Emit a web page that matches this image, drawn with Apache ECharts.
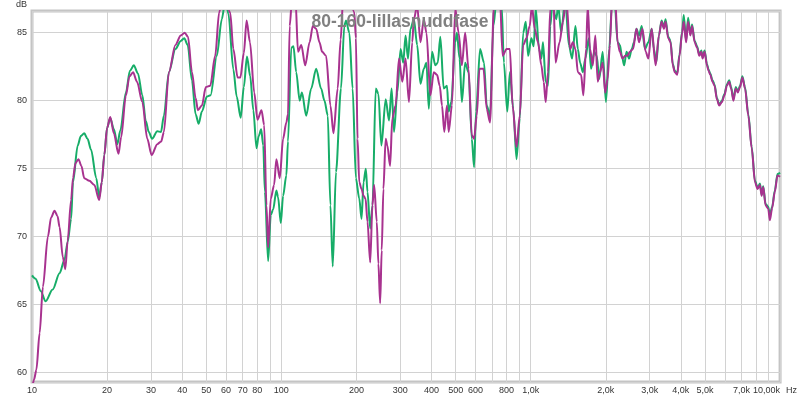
<!DOCTYPE html>
<html>
<head>
<meta charset="utf-8">
<script src="https://cdn.jsdelivr.net/npm/echarts@6/dist/echarts.min.js"></script>
<style>html,body{margin:0;padding:0;background:#fff}#c{width:800px;height:399px}</style>
</head>
<body>
<div id="c"></div>
<script>
// ---- data ----
const titleText = '80-160-lillasnuddfase';

const freqGreen = [10,10.34,10.83,11.34,12.1,12.9,13.5,13.9,14.35,14.6,15.25,15.7,16.2,16.7,17.25,18.1,18.6,19.05,19.5,20.0,20.6,21.3,22.0,22.6,23.8,24.7,25.6,26.6,27.7,28.6,29.4,30.3,31.8,32.9,33.8,35.4,37.6,39.5,40.8,42.1,43.8,45.3,46.6,48.0,50.3,52.0,55.1,57.7,59.7,61.3,64.2,66.2,68.7,70.7,72.8,75.0,77.2,79.5,81.1,83.0,84.6,85.9,88.5,90.7,92.7,95.5,97.0,99.5,101.6,104.7,106.3,109.6,111.8,114.7,118.4,120.9,125.8,131.7,137.9,144.3,148.9,153.5,157.3,160.7,165.6,173.4,178.9,181.6,187.3,193.1,199.0,205.3,209.7,213.6,218.1,221.5,227.1,231.9,239.1,245.0,251.8,262.0,270.3,276.8,283.0,291.7,300.7,308.2,314.8,321.8,329.6,340.0,350.4,361.3,372.7,381.7,390.2,402.2,414.5,423.8,434.0,447.7,461.4,468.7,480.0,498.0,505.8,518.4,529.5,545.8,563.1,580.3,592.7,603.7,626.4,649.7,666.1,686.6,708.3,730,764.4,780.6,805.4,824.7,851.1,877.0,904.0,932.7,955.2,976.3,1006,1028,1047,1080,1103,1120,1148,1173,1198,1220,1266,1289,1325,1375,1422,1466,1511,1545,1578,1618,1656,1709,1745,1799,1839,1883,1943,2003,2064,2116,2175,2230,2278,2320,2369,2422,2480,2542,2596,2654,2718,2786,2872,2963,3055,3119,3189,3266,3348,3420,3473,3560,3636,3713,3782,3867,3949,4048,4108,4199,4277,4368,4436,4544,4645,4744,4832,4889,4980,5091,5166,5247,5359,5459,5580,5700,5842,5984,6118,6247,6363,6498,6643,6767,6910,7058,7235,7457,7694,7930,8128,8301,8433,8558,8747,8960,9100,9293,9526,9763,10000];
const dbGreen = [67.15,66.9,66.0,65.24,66.1,67.3,68.3,69.6,71.3,74.0,76.7,77.4,77.6,77.2,76.4,74.3,72.9,74.0,76.0,78.0,78.7,77.9,76.8,77.8,80.6,82.2,82.6,82.0,80.4,78.5,77.7,77.2,77.75,77.7,78.9,82.1,83.8,84.4,84.6,84.1,81.5,79.0,78.3,79.2,80.3,80.4,83.3,86.0,87.5,86.4,82.3,80.3,78.75,81.0,83.26,81.8,79.3,76.5,77.4,77.9,76.7,73.3,68.2,71.6,72.0,73.4,72.9,71.0,73.0,74.5,77.0,83.9,84.0,82.1,80.0,80.6,78.9,80.9,82.35,80.9,80.0,78.9,72.3,67.8,74.75,80.9,85.5,85.9,85.0,80.9,74.3,72.8,71.3,74.0,75.0,73.3,70.6,72.3,80.9,80.5,76.7,80.1,78.55,80.9,77.7,80.6,83.8,82.8,84.8,83.1,85.3,86.0,84.1,81.25,82.35,82.8,79.4,83.6,82.6,82.8,84.7,80.9,81.1,79.2,79.9,84.3,85.0,83.1,79.9,82.8,82.1,77.2,75.1,79.2,83.8,82.8,79.65,78.9,85.5,87.5,87.0,82.8,79.2,82.1,79.4,75.7,78.7,85.0,85.8,83.3,84.6,84.0,86.8,83.8,83.1,84.3,81.4,81.1,85.5,87.0,86.0,87.0,85.0,87.5,84.1,83.1,85.5,83.8,82.8,82.1,83.1,84.6,82.35,83.6,83.3,81.6,83.6,79.9,83.8,87.0,87.0,84.3,84.1,83.3,82.6,83.6,83.1,83.8,84.3,85.3,84.8,85.5,83.8,84.3,85.3,83.8,82.8,84.8,85.9,85.4,86.0,84.7,84.4,82.7,82.2,82.0,83.4,85.1,86.3,84.4,86.1,84.9,85.6,84.4,84.0,83.4,83.7,83.2,83.7,82.7,82.3,82.0,81.5,81.2,80.2,79.7,80.0,80.5,81.2,81.5,81.0,80.1,81.0,80.7,81.1,81.8,81.0,79.0,76.6,74.1,73.6,73.9,73.1,73.7,72.4,72.2,71.6,72.2,73.4,74.6,74.7];

const freqMagenta = [10,10.2,10.41,10.73,11.06,11.58,11.93,12.31,12.66,12.9,13.29,13.6,13.9,14.35,14.6,14.94,15.35,15.78,16.2,16.98,17.78,18.6,19.05,19.5,20.0,20.6,21.3,22.22,22.77,23.8,24.61,25.42,26.37,27.7,28.99,30.18,31.8,32.96,33.8,35.4,37.6,39.5,40.96,42.22,43.8,45.3,46.28,48.0,49.8,51.84,54.29,56.31,58.57,62.3,64.2,66.78,68.47,70.7,72.55,74.83,77.85,80.2,83.24,85.33,87.14,88.5,90.7,93.52,95.5,98.54,101.6,104.7,106.3,108.0,110.8,113.9,116.6,120.2,124.6,129.8,133.7,137.9,142.2,145.7,151.1,157.3,161.8,168.2,172.9,176.9,186.1,196.1,199.0,202.1,205.3,209.7,213.6,217.5,221.5,227.1,231.9,235.6,241.3,245.0,249.0,252.6,256.6,262.0,266.1,272.9,278.6,287.2,296.3,305.5,314.8,324.8,334.8,340.0,350.4,361.3,372.7,381.7,396.0,408.5,421.0,431.6,440.8,450.2,461.4,468.7,483.1,498.0,513.7,529.5,545.8,563.1,580.3,592.7,607.6,622.9,646.3,666.1,686.6,712.2,752.5,771.4,800.3,824.7,845.6,877.0,904.0,932.7,961.4,990.8,1011,1037,1070,1103,1127,1148,1173,1198,1231,1258,1305,1346,1388,1439,1476,1511,1545,1592,1626,1667,1693,1729,1773,1816,1856,1896,1943,1990,2034,2077,2125,2175,2230,2278,2335,2391,2443,2496,2573,2654,2718,2804,2891,2963,3055,3168,3266,3348,3420,3473,3560,3636,3713,3782,3867,3949,4048,4108,4199,4277,4368,4436,4544,4645,4744,4832,4889,4980,5091,5166,5247,5359,5459,5580,5700,5842,5984,6118,6247,6363,6498,6643,6767,6910,7058,7235,7457,7694,7930,8128,8301,8433,8558,8747,8960,9100,9293,9526,9763,10000];
const dbMagenta = [58.8,59.5,60.2,62.9,66.3,70.0,71.4,71.9,71.5,70.7,68.5,67.6,69.7,72.7,74.3,75.4,75.7,75.2,74.3,74.1,73.8,72.7,74.0,76.0,78.0,78.8,77.6,76.1,77.3,80.4,81.8,82.1,81.4,79.9,77.2,76.0,76.8,77.0,77.7,82.1,84.1,84.8,85.0,84.7,82.1,80.2,79.3,79.65,81.0,81.1,83.3,86.5,88.0,86.5,83.8,81.7,81.7,83.5,85.9,84.3,80.6,78.6,79.3,78.2,72.3,69.2,72.8,73.8,75.7,74.3,77.2,78.4,79.0,85.5,88.0,87.5,83.6,84.1,82.6,84.3,85.5,85.3,84.3,83.6,83.3,79.65,77.6,80.9,84.5,87.5,88.0,86.5,84.6,77.2,74.0,73.5,73.0,72.8,71.1,68.1,72.3,73.8,71.1,68.0,65.1,69.0,73.5,77.2,76.7,75.2,78.7,79.65,83.1,81.4,83.1,79.9,84.3,86.0,87.0,84.3,86.0,85.0,80.4,82.1,81.9,81.1,79.65,77.7,79.65,77.7,79.65,86.8,85.0,82.6,85.0,82.35,77.45,77.2,78.9,82.35,82.35,79.4,78.4,87.0,87.5,83.3,83.8,83.8,79.65,76.6,78.9,84.1,84.6,85.5,87.0,85.3,84.3,82.6,81.4,79.9,82.1,86.8,88.0,82.8,84.3,85.8,87.5,83.8,84.3,83.8,82.1,81.9,80.4,83.8,87.0,83.8,82.6,84.8,81.4,82.1,82.8,80.6,81.6,84.1,88.0,88.0,84.3,83.6,83.1,83.3,83.3,83.6,83.8,85.3,84.3,85.3,83.6,83.1,85.3,82.6,84.8,85.8,85.3,85.8,84.6,84.3,82.6,82.1,81.9,83.3,85.0,85.8,84.3,85.8,84.8,85.5,84.3,83.9,83.3,83.6,83.1,83.6,82.6,82.2,81.9,81.4,81.1,80.1,79.65,79.9,80.4,81.1,81.4,80.9,80.0,80.9,80.6,81.0,81.7,80.9,78.9,76.5,74.0,73.5,73.8,73.0,73.65,72.3,72.06,71.2,72.1,73.3,74.5,74.4];

// axis ticks / labels
const xGridHz = [20,30,40,50,60,70,80,90,200,300,400,500,600,700,800,900,2000,3000,4000,5000,6000,7000,8000,9000];
const xLabelHz = [10,20,30,40,50,60,70,80,100,200,300,400,500,600,800,1000,2000,3000,4000,5000,7000,10000];
const xLabelText = ['10','20','30','40','50','60','70','80','100','200','300','400','500','600','800','1,0k','2,0k','3,0k','4,0k','5,0k','7,0k','10,00k'];
const yLabelValues = [60,65,70,75,80,85];

// ---- chart ----
const FONT = 'Liberation Sans';
const GRID = '#d2d2d2';
const LABEL = '#333333';
const zip = (xs, ys) => xs.map((x, i) => [x, ys[i]]);
const labelFor = v => { const i = xLabelHz.indexOf(Math.round(v)); return i >= 0 ? xLabelText[i] : ''; };

const minorLines = xGridHz.map(v => ({
  xAxis: v,
  label: { show: xLabelHz.indexOf(v) >= 0, formatter: labelFor(v) }
}));

const chart = echarts.init(document.getElementById('c'), null, { renderer: 'canvas' });
chart.setOption({
  animation: false,
  backgroundColor: '#ffffff',
  title: {
    text: titleText, left: 'center', top: 13, padding: 0, z: 10,
    textStyle: { fontFamily: FONT, fontSize: 17.5, fontWeight: 'bold', color: '#808080' }
  },
  grid: { left: 32, right: 15, top: 11, bottom: 17, show: true, borderColor: '#c4c4c4', borderWidth: 3, backgroundColor: '#ffffff' },
  xAxis: {
    type: 'log', logBase: 10, min: 10, max: 10000,
    axisLine: { show: false }, axisTick: { show: false },
    splitLine: { show: true, lineStyle: { color: GRID, width: 1 } },
    axisLabel: {
      fontFamily: FONT, fontSize: 9, color: LABEL, margin: 4, showMinLabel: true, showMaxLabel: true,
      formatter: v => (Math.round(v) === 10000 ? '{e|' + labelFor(v) + '}' : labelFor(v)),
      rich: { e: { fontFamily: FONT, fontSize: 9, color: LABEL, padding: [0, 27, 0, 0] } }
    },
    name: 'Hz', nameLocation: 'end', nameGap: 2,
    nameTextStyle: { fontFamily: FONT, fontSize: 9, color: LABEL, verticalAlign: 'top', padding: [4, 0, 0, 0] }
  },
  yAxis: {
    type: 'value', min: 59.3, max: 86.6, splitNumber: 5,
    axisLine: { show: false }, axisTick: { show: false },
    splitLine: { show: true, lineStyle: { color: GRID, width: 1 } },
    axisLabel: {
      fontFamily: FONT, fontSize: 9, color: LABEL, margin: 5, showMinLabel: false, showMaxLabel: false,
      formatter: v => (yLabelValues.indexOf(Math.round(v * 10) / 10) >= 0 ? String(v) : '')
    },
    name: 'dB', nameLocation: 'end', nameGap: 2,
    nameTextStyle: { fontFamily: FONT, fontSize: 9, color: LABEL, align: 'right', verticalAlign: 'bottom', padding: [0, 5, 0, 0] }
  },
  series: [
    {
      name: 'green', type: 'line', data: zip(freqGreen, dbGreen), showSymbol: false, symbol: 'none',
      smooth: 0.3, smoothMonotone: 'x', clip: true,
      lineStyle: { color: '#17ad68', width: 2 }, itemStyle: { color: '#17ad68' },
      markLine: {
        silent: true, symbol: ['none', 'none'], z: 1, animation: false,
        lineStyle: { type: 'solid', color: GRID, width: 1 },
        label: { position: 'start', distance: 4, fontFamily: FONT, fontSize: 9, color: LABEL },
        emphasis: { disabled: true },
        data: minorLines
      }
    },
    {
      name: 'magenta', type: 'line', data: zip(freqMagenta, dbMagenta), showSymbol: false, symbol: 'none',
      smooth: 0.3, smoothMonotone: 'x', clip: true,
      lineStyle: { color: '#a8328f', width: 2 }, itemStyle: { color: '#a8328f' }
    }
  ]
});
</script>
</body>
</html>
